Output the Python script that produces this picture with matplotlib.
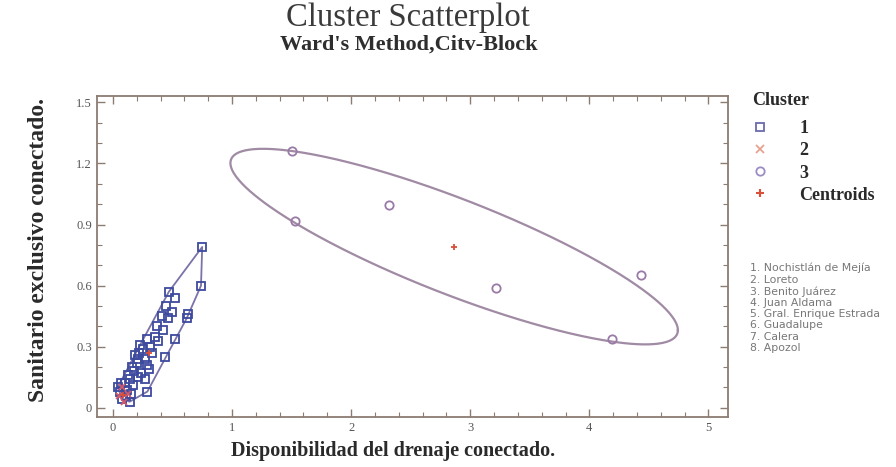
import numpy as np
import matplotlib
matplotlib.use("Agg")
import matplotlib.pyplot as plt
from matplotlib.lines import Line2D
from matplotlib.ticker import MultipleLocator

# ---------------- data ----------------
c1_x = [0.75, 0.74, 0.62, 0.63, 0.47, 0.52, 0.45, 0.46, 0.50, 0.37, 0.42, 0.29, 0.44, 0.52,
        0.23, 0.21, 0.29, 0.27, 0.14, 0.12, 0.06, 0.29, 0.08, 0.14, 0.18, 0.20, 0.22, 0.25,
        0.16, 0.19, 0.24, 0.27, 0.31, 0.33, 0.35, 0.10, 0.13, 0.17, 0.21, 0.11, 0.15, 0.04,
        0.07, 0.30, 0.38, 0.41]
c1_y = [0.79, 0.60, 0.44, 0.46, 0.57, 0.54, 0.50, 0.44, 0.47, 0.40, 0.38, 0.34, 0.25, 0.34,
        0.31, 0.24, 0.21, 0.14, 0.14, 0.09, 0.08, 0.08, 0.045, 0.03, 0.18, 0.22, 0.27, 0.29,
        0.20, 0.26, 0.17, 0.24, 0.30, 0.27, 0.35, 0.12, 0.16, 0.11, 0.15, 0.06, 0.07, 0.10,
        0.12, 0.19, 0.33, 0.45]
c2_x = [0.05, 0.09, 0.13, 0.08]
c2_y = [0.06, 0.03, 0.07, 0.10]
c3_x = [1.50, 1.53, 2.32, 3.22, 4.43, 4.19]
c3_y = [1.26, 0.915, 0.995, 0.59, 0.65, 0.34]

legend_title = "Cluster"
legend_labels = ["1", "2", "3", "Centroids"]
municipios = ["1. Nochistlán de Mejía", "2. Loreto", "3. Benito Juárez", "4. Juan Aldama",
              "5. Gral. Enrique Estrada", "6. Guadalupe", "7. Calera", "8. Apozol"]
x_ticks = [0, 1, 2, 3, 4, 5]
y_ticks = [0, 0.3, 0.6, 0.9, 1.2, 1.5]
y_ticklabels = ["0", "0.3", "0.6", "0.9", "1.2", "1.5"]

# ---------------- style ----------------
plt.rcParams['font.family'] = ['Liberation Serif', 'DejaVu Serif']
col1 = '#3d4a9e'
col2 = '#d85a6a'
col3 = '#9a7aa6'
hull1 = '#7a72a8'
ell_col = '#a08aa4'
cen_col = '#d8503a'
spine_col = '#8c7c72'

fig = plt.figure(figsize=(8.96, 4.67), dpi=100)
ax = fig.add_axes([0.108, 0.107, 0.704, 0.687])


def convex_hull(xs, ys):
    pts = sorted(set(zip(xs, ys)))
    def cross(o, a, b):
        return (a[0]-o[0])*(b[1]-o[1]) - (a[1]-o[1])*(b[0]-o[0])
    lower, upper = [], []
    for p in pts:
        while len(lower) >= 2 and cross(lower[-2], lower[-1], p) <= 0:
            lower.pop()
        lower.append(p)
    for p in reversed(pts):
        while len(upper) >= 2 and cross(upper[-2], upper[-1], p) <= 0:
            upper.pop()
        upper.append(p)
    h = lower[:-1] + upper[:-1]
    h.append(h[0])
    return [p[0] for p in h], [p[1] for p in h]


# cluster 1 hull + points
hx, hy = convex_hull(c1_x, c1_y)
ax.plot(hx, hy, color=hull1, lw=1.3, zorder=2)
ax.plot(c1_x, c1_y, ls='none', marker='s', ms=6, mfc='none', mec=col1, mew=1.3, zorder=3)

# cluster 2
hx2, hy2 = convex_hull(c2_x, c2_y)
ax.plot(hx2, hy2, color='#c0607a', lw=1.0, zorder=2)
ax.plot(c2_x, c2_y, ls='none', marker='x', ms=5, mec=col2, mew=1.2, zorder=4)

# cluster 3 ellipse from covariance
m3 = np.array([np.mean(c3_x), np.mean(c3_y)])
cov3 = np.cov(np.vstack([c3_x, c3_y]))
L = np.linalg.cholesky(cov3)
t = np.linspace(0, 2*np.pi, 400)
circ = np.vstack([np.cos(t), np.sin(t)])
ell = m3[:, None] + 1.46 * L @ circ
ax.plot(ell[0], ell[1], color=ell_col, lw=1.6, zorder=2)
ax.plot(c3_x, c3_y, ls='none', marker='o', ms=6, mfc='none', mec=col3, mew=1.3, zorder=3)

# centroids
for xs, ys in [(c1_x, c1_y), (c2_x, c2_y), (c3_x, c3_y)]:
    ax.plot(np.mean(xs), np.mean(ys), ls='none', marker='+', ms=5, mec=cen_col, mew=1.3, zorder=5)

ax.set_xlim(-0.135, 5.16)
ax.set_ylim(-0.045, 1.53)
ax.set_xticks(x_ticks)
ax.set_yticks(y_ticks)
ax.set_yticklabels(y_ticklabels)
ax.xaxis.set_minor_locator(MultipleLocator(0.2))
ax.yaxis.set_minor_locator(MultipleLocator(0.1))
ax.tick_params(which='both', direction='in', top=True, right=True, color=spine_col,
               labelsize=9, labelcolor='#555555')
ax.tick_params(which='major', length=6, width=1)
ax.tick_params(which='minor', length=3.5, width=0.8)
for s in ax.spines.values():
    s.set_color(spine_col)
    s.set_linewidth(1.3)

ax.set_xlabel("Disponibilidad del drenaje conectado.", fontsize=14.5, fontweight='bold',
              color='#2a2a2a')
ax.xaxis.set_label_coords(0.47, -0.075)
ax.set_ylabel("Sanitario exclusivo conectado.", fontsize=17, fontweight='bold',
              color='#2a2a2a')
ax.yaxis.set_label_coords(-0.076, 0.52)

fig.text(0.455, 0.962, "Cluster Scatterplot", ha='center', va='center', fontsize=23.5,
         color='#3a3a3a')
fig.text(0.456, 0.905, "Ward's Method,Citv-Block", ha='center', va='center', fontsize=16,
         fontweight='bold', color='#2e2e2e')

fig.text(0.8395, 0.784, legend_title, ha='left', va='center', fontsize=13,
         fontweight='bold', color='#2a2a2a')

handles = [
    Line2D([], [], ls='none', marker='s', ms=6, mfc='none', mec='#6a6aae', mew=1.3),
    Line2D([], [], ls='none', marker='x', ms=6, mec='#e8a292', mew=1.3),
    Line2D([], [], ls='none', marker='o', ms=6, mfc='none', mec='#9c8cc4', mew=1.3),
    Line2D([], [], ls='none', marker='+', ms=6, mec=cen_col, mew=1.5),
]
leg = fig.legend(handles, legend_labels, loc='upper left', bbox_to_anchor=(0.820, 0.777),
                 frameon=False, handlelength=1.0, handletextpad=1.67,
                 labelspacing=0.28,
                 prop={'size': 13, 'weight': 'bold'})
for txt in leg.get_texts():
    txt.set_color('#2a2a2a')

fig.text(0.837, 0.437, "\n".join(municipios), ha='left', va='top', fontsize=7.8,
         color='#777777', family=['DejaVu Sans'], linespacing=1.16)

fig.savefig("out.png", dpi=100, facecolor='white')
